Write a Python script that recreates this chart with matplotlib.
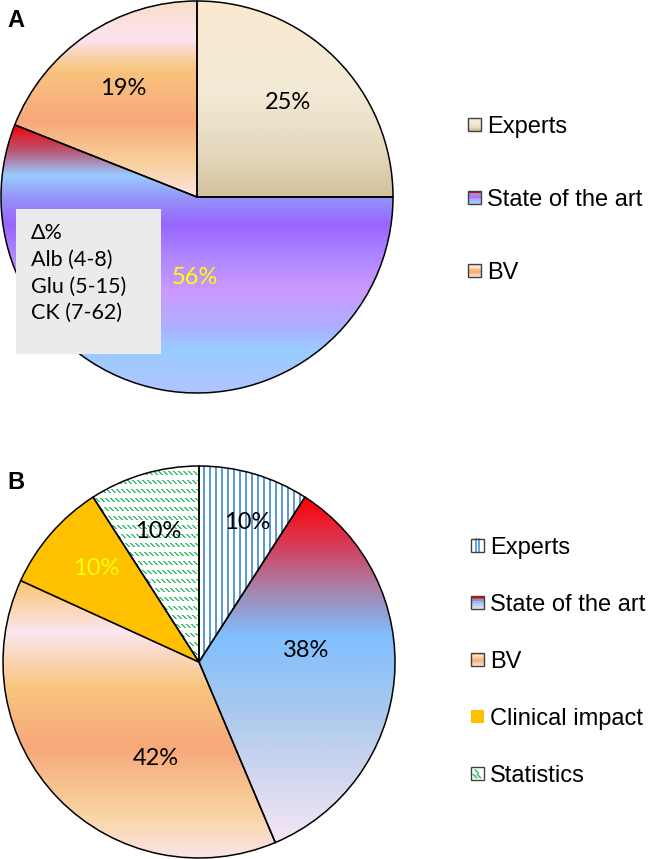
import numpy as np
import matplotlib
matplotlib.use("Agg")
import matplotlib.pyplot as plt
from matplotlib.colors import LinearSegmentedColormap, to_rgba
from matplotlib.patches import Rectangle
from matplotlib.lines import Line2D
from matplotlib.legend_handler import HandlerBase

W, H, DPI = 648, 859, 100

# ---- data ----
labels_a = ["Experts", "State of the art", "BV"]
values_a = [25, 56, 19]
labels_b = ["Experts", "State of the art", "BV", "Clinical impact", "Statistics"]
values_b = [10, 38, 42, 10, 10]
box_lines = ["\u0394%", "Alb (4-8)", "Glu (5-15)", "CK (7-62)"]

# ---- fills ----
EXPERTS_A = [(0, "#FBE8D0"), (0.45, "#F3EBD6"), (0.75, "#E6DAC0"), (1, "#D2C19C")]
STATE_A = [(0, "#F20000"), (0.1, "#B85878"), (0.19, "#99CCFF"), (0.27, "#9595F8"),
           (0.37, "#9966FF"), (0.51, "#B38AFF"), (0.62, "#CC99FF"), (0.76, "#ADB0FF"),
           (0.84, "#99CCFF"), (1, "#B0C4FF")]
BV_A = [(0, "#F9DFC8"), (0.19, "#FCE4F0"), (0.35, "#F8C47E"), (0.61, "#F7A87A"),
        (0.82, "#F9D09C"), (1, "#FCE4E0")]
STATE_B = [(0, "#FF0000"), (0.14, "#D53E5C"), (0.27, "#A586AE"), (0.4, "#80BFFF"),
           (0.6, "#A5C8EE"), (0.8, "#D0D6EE"), (1, "#F6E6F6")]
BV_B = [(0, "#F9C46C"), (0.185, "#FCE6F0"), (0.38, "#F8C680"), (0.6, "#F7A87A"),
        (0.84, "#F9D4A0"), (1, "#FCE4E8")]

fills_a = [("grad", EXPERTS_A), ("grad", STATE_A), ("grad", BV_A)]
fills_b = [("stripes", "#5B9BD5"), ("grad", STATE_B), ("grad", BV_B),
           ("solid", "#FFC000"), ("dashes", "#3CC46E")]

LIM = 200 / 196
LABEL_FONT = ["Lato", "DejaVu Sans"]
LEG_FONT = ["Liberation Sans", "DejaVu Sans"]

fig = plt.figure(figsize=(W / DPI, H / DPI), dpi=DPI)


def pie_axes(cx, cy):
    half = 200
    ax = fig.add_axes([(cx - half) / W, 1 - (cy + half) / H, 2 * half / W, 2 * half / H])
    return ax


def draw_pie(ax, values, fills, lab_colors, lab_dist, lab_shift):
    total = sum(values)
    wedges, _, autotexts = ax.pie(
        values, startangle=90, counterclock=False, radius=1,
        autopct=lambda p: "{:.0f}%".format(p * total / 100),
        wedgeprops=dict(linewidth=1.1, edgecolor="black"),
        textprops=dict(fontsize=17, family=LABEL_FONT))
    ax.set_xlim(-LIM, LIM)
    ax.set_ylim(-LIM, LIM)
    ppu = ax.transData.transform([[1, 0]])[0, 0] - ax.transData.transform([[0, 0]])[0, 0]
    for w, (kind, spec) in zip(wedges, fills):
        if kind == "solid":
            w.set_facecolor(spec)
            continue
        w.set_facecolor("none")
        if kind == "grad":
            ext = w.get_path().get_extents()
            cmap = LinearSegmentedColormap.from_list("g", spec)
            arr = cmap(np.linspace(0, 1, 256))[:, None, :]
            im = ax.imshow(arr, extent=(ext.x0, ext.x1, ext.y0, ext.y1), origin="upper",
                           aspect="auto", interpolation="bilinear", zorder=0.5)
        else:
            n = int(round(2 * LIM * ppu))
            rows, cols = np.mgrid[0:n, 0:n]
            if kind == "stripes":
                mask = cols % 6 < 2
            else:
                mask = ((rows % 9) < 4) & ((cols - rows) % 5 < 2)
            arr = np.ones((n, n, 4))
            arr[mask] = to_rgba(spec)
            im = ax.imshow(arr, extent=(-LIM, LIM, -LIM, LIM), origin="upper",
                           aspect="auto", interpolation="nearest", zorder=0.5)
        im.set_clip_path(w)
    for w, t, c, d, s in zip(wedges, autotexts, lab_colors, lab_dist, lab_shift):
        ang = np.deg2rad((w.theta1 + w.theta2) / 2 - s)
        t.set_position((d * np.cos(ang), d * np.sin(ang)))
        t.set_color(c)
    ax.set_xlim(-LIM, LIM)
    ax.set_ylim(-LIM, LIM)
    ax.set_aspect("equal")
    ax.axis("off")
    return wedges


class Swatch(HandlerBase):
    def __init__(self, fill):
        super().__init__()
        self.fill = fill

    def create_artists(self, legend, orig_handle, xdescent, ydescent, width, height, fontsize, trans):
        s = min(width, height)
        x0 = -xdescent + (width - s) / 2
        y0 = -ydescent + (height - s) / 2
        kind, spec = self.fill
        arts = []
        if kind == "grad":
            cmap = LinearSegmentedColormap.from_list("g", spec)
            nb = 8
            for i in range(nb):
                arts.append(Rectangle((x0, y0 + s * (nb - 1 - i) / nb), s, s / nb,
                                      facecolor=cmap(i / (nb - 1)), edgecolor="none", transform=trans))
        elif kind == "solid":
            arts.append(Rectangle((x0, y0), s, s, facecolor=spec, edgecolor="none", transform=trans))
            return arts
        else:
            arts.append(Rectangle((x0, y0), s, s, facecolor="white", edgecolor="none", transform=trans))
            if kind == "stripes":
                for fx in (0.35, 0.65):
                    arts.append(Line2D([x0 + fx * s] * 2, [y0, y0 + s], color=spec, lw=1.3, transform=trans))
            else:
                for fx, fy in ((0.3, 0.3), (0.6, 0.3), (0.45, 0.65)):
                    arts.append(Line2D([x0 + (fx - 0.12) * s, x0 + (fx + 0.12) * s],
                                       [y0 + (fy + 0.12) * s, y0 + (fy - 0.12) * s],
                                       color=spec, lw=1.2, transform=trans))
        arts.append(Rectangle((x0, y0), s, s, facecolor="none", edgecolor="#404040", lw=1.0, transform=trans))
        return arts


def add_legend(ax, labels, fills, x_px, y_px, spacing):
    handles = [Rectangle((0, 0), 1, 1) for _ in labels]
    hmap = {h: Swatch(f) for h, f in zip(handles, fills)}
    ax.legend(handles, labels, handler_map=hmap, loc="center left",
              bbox_to_anchor=(x_px / W, 1 - y_px / H), bbox_transform=fig.transFigure,
              frameon=False, borderpad=0, borderaxespad=0, handlelength=0.55, handleheight=0.55,
              handletextpad=0.27, labelspacing=spacing, prop=dict(family=LEG_FONT, size=17))


# ---- panel A ----
ax_a = pie_axes(197, 197)
draw_pie(ax_a, values_a, fills_a, ["black", "#FFFF00", "black"],
         [0.67, 0.41, 0.67], [-1, -9, 0])
add_legend(ax_a, labels_a, fills_a, 468, 200, 2.17)

# ---- panel B ----
ax_b = pie_axes(199, 662)
draw_pie(ax_b, values_b, fills_b, ["black", "black", "black", "#FFFF00", "black"],
         [0.755, 0.55, 0.54, 0.71, 0.70], [2.7, -11, -22, 1.5, -1])
add_legend(ax_b, labels_b, fills_b, 471, 662, 1.48)

# text box in A
fig.add_artist(Rectangle((16 / W, 1 - 354 / H), 145 / W, 145 / H, transform=fig.transFigure,
                         facecolor="#EBEBEB", edgecolor="none", zorder=3))
for i, line in enumerate(box_lines):
    fig.text(31 / W, 1 - (233 + 26.7 * i) / H, line, ha="left", va="center",
             fontsize=15.5, family=LABEL_FONT, zorder=4)

# panel letters
fig.text(7 / W, 1 - 27 / H, "A", fontsize=17, fontweight="bold", family=LEG_FONT, va="baseline")
fig.text(7 / W, 1 - 489 / H, "B", fontsize=17, fontweight="bold", family=LEG_FONT, va="baseline")

fig.savefig("out.png", dpi=DPI)
